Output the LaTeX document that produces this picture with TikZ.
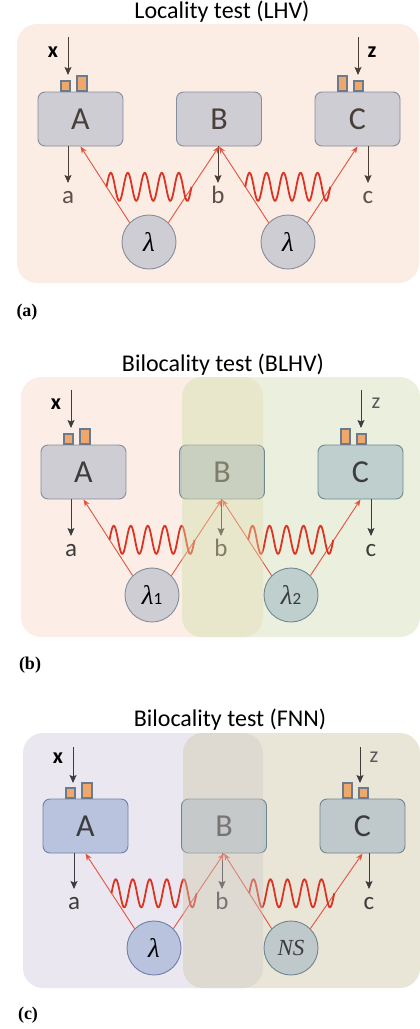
\documentclass[tikz,border=0pt]{standalone}
\usepackage{fontspec}
\setmainfont{Carlito}
\newfontfamily\capfont{Liberation Serif}
\newfontfamily\grk{Liberation Serif}
\usetikzlibrary{positioning,calc,arrows.meta,decorations.pathmorphing}
\definecolor{peacha}{HTML}{FBEDE4}
\definecolor{peachb}{HTML}{FCEEE6}
\definecolor{greenb}{HTML}{EBEFDE}
\definecolor{bandb}{HTML}{E6DDAF}
\definecolor{lavc}{HTML}{EAE7F0}
\definecolor{beigec}{HTML}{E9E6D8}
\definecolor{bandc}{HTML}{D0CAC7}
\definecolor{boxgray}{HTML}{CDCDD3}
\definecolor{linegray}{HTML}{868D9C}
\definecolor{boxteal}{HTML}{BFCFCD}
\definecolor{boxtealb}{HTML}{B8C8CA}
\definecolor{lineteal}{HTML}{6F8A8F}
\definecolor{boxblue}{HTML}{B9C3DE}
\definecolor{lineblue}{HTML}{6F80AA}
\definecolor{boxslate}{HTML}{BFC9CB}
\definecolor{lineslate}{HTML}{6E868D}
\definecolor{inka}{HTML}{4A3F38}
\definecolor{laba}{HTML}{5B504A}
\definecolor{inkb}{HTML}{3C3C3C}
\definecolor{knobline}{HTML}{6A7B8D}
\definecolor{knobfill}{HTML}{EFA86A}
\definecolor{raycol}{HTML}{E4513D}
\definecolor{wavecol}{HTML}{DD3322}

\newcommand{\lam}{{\grk\itshape λ}}

\tikzset{
  dev/.style={draw, rounded corners=7pt, line width=0.9pt, minimum width=85pt,
    minimum height=54pt, inner sep=0pt, font=\fontsize{32}{32}\selectfont},
  src/.style={circle, draw, line width=0.9pt, minimum size=54pt, inner sep=0pt,
    font=\fontsize{27}{27}\selectfont},
  knob/.style={draw=knobline, fill=knobfill, line width=1.3pt},
  io/.style={draw=#1, line width=0.9pt, -{Stealth[length=8pt,width=7pt,inset=1.5pt]}},
  io/.default=inkb,
  ray/.style={draw=raycol, line width=0.9pt, -{Stealth[length=7pt,width=5.5pt]}},
  wavy/.style={draw=wavecol, line width=1.8pt},
  ttl/.style={font=\fontsize{24}{24}\selectfont, text=black},
  inlab/.style={font=\fontsize{22}{22}\selectfont\bfseries, text=black},
  outlab/.style={anchor=north, inner sep=0pt, text height=17pt,
    font=\fontsize{25}{25}\selectfont},
  panlab/.style={font=\capfont\fontsize{18}{18}\selectfont\bfseries}
}

\begin{document}
\begin{tikzpicture}[x=1pt, y=-1pt]
  \useasboundingbox (0,0) rectangle (420,1029);

  % (a) locality
  \begin{scope}
    \fill[peacha, rounded corners=20pt] (17,24) rectangle (419,283);
    \node[ttl] (ta) at (222,12) {Locality test (LHV)};
    \node[dev, fill=boxgray, draw=linegray, text=inka] (A) at (80.5,119) {A};
    \node[dev, fill=boxgray, draw=linegray, text=inka] (B) at (219,119) {B};
    \node[dev, fill=boxgray, draw=linegray, text=inka] (C) at (357.5,119) {C};
    \node[src, fill=boxgray, draw=linegray] (l1) at (149,242) {\lam};
    \node[src, fill=boxgray, draw=linegray] (l2) at (288,242) {\lam};
    \draw[knob] (61,81) rectangle (70,91);
    \draw[knob] (77,76) rectangle (87,91);
    \draw[knob] (338,76) rectangle (347,91);
    \draw[knob] (354,81) rectangle (363,91);
    \coordinate (xin) at (68,37);
    \coordinate (xend) at (68,75);
    \coordinate (zin) at (358,37);
    \coordinate (zend) at (358,75);
    \node[inlab] (xl) at (53,52) {x};
    \node[inlab] (zl) at (372,52) {z};
    \draw[io=inka] (xin) -- (xend);
    \draw[io=inka] (zin) -- (zend);
    \node[outlab, text=laba] (oa) at (68,186) {a};
    \node[outlab, text=laba] (ob) at (218,186) {b};
    \node[outlab, text=laba] (oc) at (368,186) {c};
    \draw[io=inka] ([xshift=-12.5pt]A.south) -- ([yshift=3pt]oa.north);
    \draw[io=inka] ([xshift=-1pt]B.south) -- ([yshift=3pt]ob.north);
    \draw[io=inka] ([xshift=10.5pt]C.south) -- ([yshift=3pt]oc.north);
    \draw[ray] (l1.135) -- (A.south);
    \draw[ray] (l1.45) -- (B.south);
    \draw[ray] (l2.135) -- (B.south);
    \draw[ray] (l2.45) -- (C.south);
    \coordinate (w1) at ($(l1.135)!0.47!(A.south)$);
    \coordinate (w2) at ($(l2.135)!0.47!(B.south)$);
    \draw[wavy, shift={(w1)}] plot[domain=0:85, samples=170] (\x, {-14*sin(21.1765*\x)});
    \draw[wavy, shift={(w2)}] plot[domain=0:85, samples=170] (\x, {-14*sin(21.1765*\x)});
  \end{scope}
  \node[panlab] (pa) at (27,312) {(a)};

  % (b) bilocality, BLHV
  \begin{scope}[shift={(3,353)}]
    \fill[peachb, rounded corners=20pt] (18,24) rectangle (260,284);
    \fill[greenb, rounded corners=20pt] (179,24) rectangle (417,284);
    \node[ttl] (tb) at (220,12) {Bilocality test (BLHV)};
    \node[dev, fill=boxgray, draw=linegray, text=inkb] (A) at (80.5,119) {A};
    \node[dev, fill=boxtealb, draw=lineteal, text=inkb] (B) at (219,119) {B};
    \node[dev, fill=boxteal, draw=lineteal, text=inkb] (C) at (357.5,119) {C};
    \node[src, fill=boxgray, draw=linegray] (l1) at (149,242)
      {\lam{\fontsize{17}{17}\selectfont 1}};
    \node[src, fill=boxteal, draw=lineteal, text=inkb] (l2) at (288,242)
      {\lam{\fontsize{17}{17}\selectfont 2}};
    \draw[knob] (61,81) rectangle (70,91);
    \draw[knob] (77,76) rectangle (87,91);
    \draw[knob] (338,76) rectangle (347,91);
    \draw[knob] (354,81) rectangle (363,91);
    \coordinate (xin) at (68,37);
    \coordinate (xend) at (68,75);
    \coordinate (zin) at (358,37);
    \coordinate (zend) at (358,75);
    \node[inlab] (xl) at (53,51) {x};
    \node[inlab, font=\fontsize{22}{22}\selectfont, text=black!65] (zl) at (373,50) {z};
    \draw[io] (xin) -- (xend);
    \draw[io] (zin) -- (zend);
    \node[outlab, text=inkb] (oa) at (68,186) {a};
    \node[outlab, text=inkb] (ob) at (218,186) {b};
    \node[outlab, text=inkb] (oc) at (368,186) {c};
    \draw[io] ([xshift=-12.5pt]A.south) -- ([yshift=3pt]oa.north);
    \draw[io] ([xshift=-1pt]B.south) -- ([yshift=3pt]ob.north);
    \draw[io] ([xshift=10.5pt]C.south) -- ([yshift=3pt]oc.north);
    \draw[ray] (l1.135) -- (A.south);
    \draw[ray] (l1.45) -- (B.south);
    \draw[ray] (l2.135) -- (B.south);
    \draw[ray] (l2.45) -- (C.south);
    \coordinate (w1) at ($(l1.135)!0.47!(A.south)$);
    \coordinate (w2) at ($(l2.135)!0.47!(B.south)$);
    \draw[wavy, shift={(w1)}] plot[domain=0:85, samples=170] (\x, {-14*sin(21.1765*\x)});
    \draw[wavy, shift={(w2)}] plot[domain=0:85, samples=170] (\x, {-14*sin(21.1765*\x)});
    \fill[bandb, fill opacity=0.4, rounded corners=20pt] (179,24) rectangle (260,284);
  \end{scope}
  \node[panlab] (pb) at (30,665) {(b)};

  % (c) bilocality, FNN
  \begin{scope}[shift={(5,707)}]
    \fill[lavc, rounded corners=20pt] (18,26) rectangle (258,281);
    \fill[beigec, rounded corners=20pt] (178,26) rectangle (415,281);
    \node[ttl] (tc) at (225,13) {Bilocality test (FNN)};
    \node[dev, fill=boxblue, draw=lineblue, text=inkb] (A) at (80.5,119) {A};
    \node[dev, fill=boxslate, draw=lineslate, text=inkb] (B) at (219,119) {B};
    \node[dev, fill=boxslate, draw=lineslate, text=inkb] (C) at (357.5,119) {C};
    \node[src, fill=boxblue, draw=lineblue] (l1) at (149,241) {\lam};
    \node[src, fill=boxslate, draw=lineslate, text=inkb, font=\grk\itshape\fontsize{23}{23}\selectfont]
      (l2) at (286,241) {NS};
    \draw[knob] (61,81) rectangle (70,91);
    \draw[knob] (77,76) rectangle (87,91);
    \draw[knob] (338,76) rectangle (347,91);
    \draw[knob] (354,81) rectangle (363,91);
    \coordinate (xin) at (68,40);
    \coordinate (xend) at (68,76);
    \coordinate (zin) at (355,40);
    \coordinate (zend) at (355,76);
    \node[inlab] (xl) at (53,51) {x};
    \node[inlab, font=\fontsize{22}{22}\selectfont, text=black!65] (zl) at (369,50) {z};
    \draw[io] (xin) -- (xend);
    \draw[io] (zin) -- (zend);
    \node[outlab, text=inkb] (oa) at (69,185) {a};
    \node[outlab, text=inkb] (ob) at (217,185) {b};
    \node[outlab, text=inkb] (oc) at (364,185) {c};
    \draw[io] ([xshift=-11.5pt]A.south) -- ([yshift=3pt]oa.north);
    \draw[io] ([xshift=-2pt]B.south) -- ([yshift=3pt]ob.north);
    \draw[io] ([xshift=6.5pt]C.south) -- ([yshift=3pt]oc.north);
    \draw[ray] (l1.135) -- (A.south);
    \draw[ray] (l1.45) -- (B.south);
    \draw[ray] (l2.135) -- (B.south);
    \draw[ray] (l2.45) -- (C.south);
    \coordinate (w1) at ($(l1.135)!0.47!(A.south)$);
    \coordinate (w2) at ($(l2.135)!0.47!(B.south)$);
    \draw[wavy, shift={(w1)}] plot[domain=0:85, samples=170] (\x, {-14*sin(21.1765*\x)});
    \draw[wavy, shift={(w2)}] plot[domain=0:85, samples=170] (\x, {-14*sin(21.1765*\x)});
    \fill[bandc, fill opacity=0.4, rounded corners=20pt] (178,26) rectangle (258,281);
  \end{scope}
  \node[panlab] (pc) at (28,1015) {(c)};
\end{tikzpicture}
\end{document}
